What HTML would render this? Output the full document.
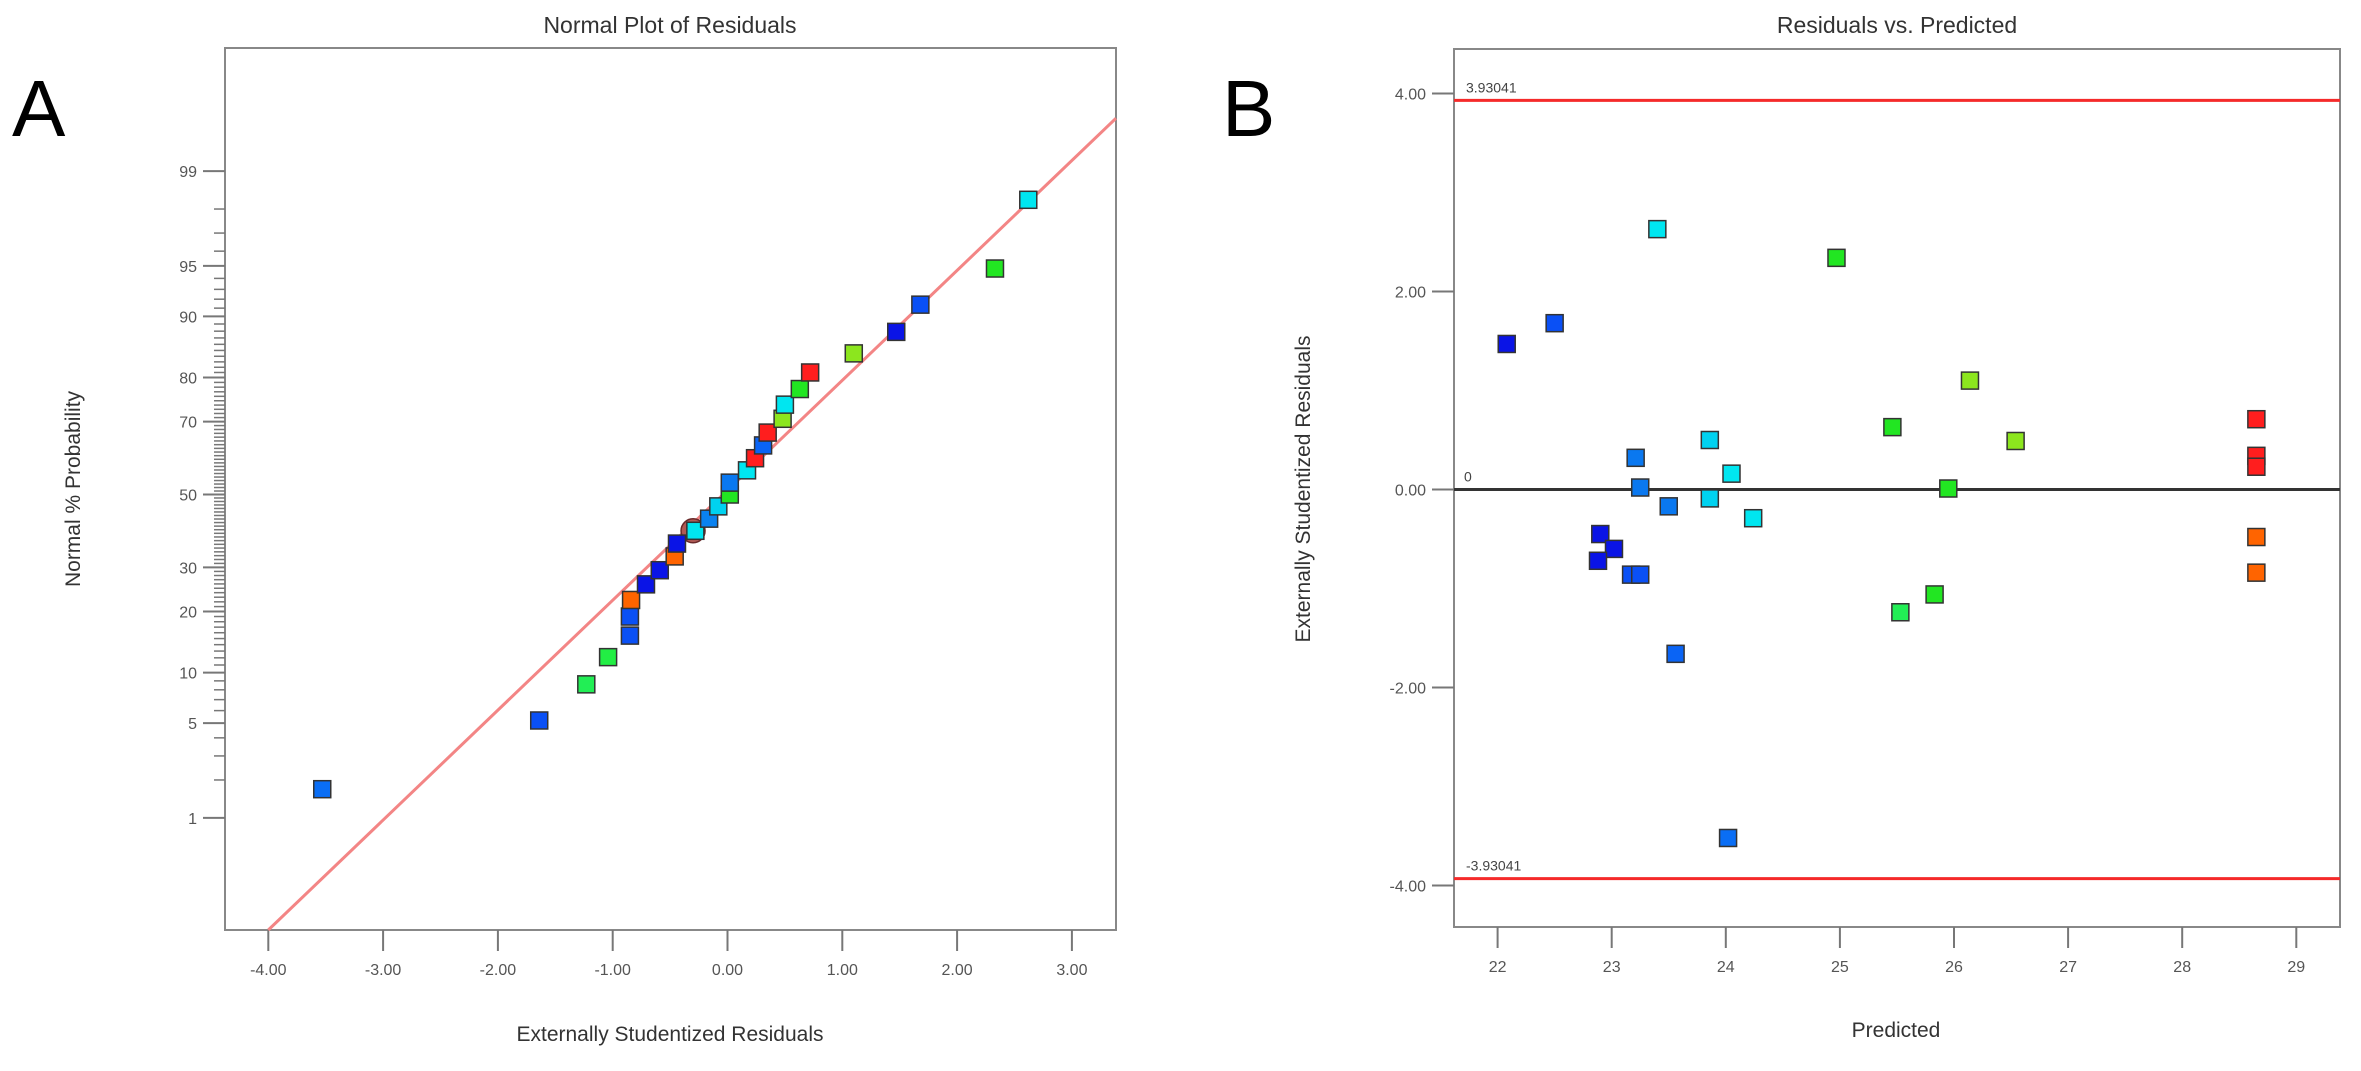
<!DOCTYPE html>
<html><head><meta charset="utf-8"><style>
html,body{margin:0;padding:0;background:#fff;}
svg{display:block;font-family:"Liberation Sans",sans-serif;}
</style></head><body>
<svg id="fig" width="2361" height="1071" viewBox="0 0 2361 1071" xmlns="http://www.w3.org/2000/svg">
<text x="12" y="136" font-size="80" fill="#000">A</text>
<text x="1222" y="136" font-size="80" fill="#000">B</text>
<text x="670" y="33" font-size="23" fill="#333" text-anchor="middle">Normal Plot of Residuals</text>
<text x="1897" y="33" font-size="23" fill="#333" text-anchor="middle">Residuals vs. Predicted</text>
<text x="670" y="1041" font-size="21" fill="#333" text-anchor="middle">Externally Studentized Residuals</text>
<text x="1896" y="1037" font-size="21" fill="#333" text-anchor="middle">Predicted</text>
<text transform="translate(80,489) rotate(-90)" font-size="21" fill="#333" text-anchor="middle">Normal % Probability</text>
<text transform="translate(1310,489) rotate(-90)" font-size="21" fill="#333" text-anchor="middle">Externally Studentized Residuals</text>
<g id="ga"></g><g id="gb"></g>
</svg>
<script>
// Panel A data
const aResiduals = [-3.53,-1.64,-1.23,-1.04,-0.85,-0.85,-0.84,-0.71,-0.59,-0.46,-0.44,-0.28,-0.16,-0.08,0.02,0.02,0.17,0.24,0.31,0.35,0.48,0.50,0.63,0.72,1.10,1.47,1.68,2.33,2.62];
const aProbs = [1.7,5.2,8.6,12.1,15.5,19.0,22.4,25.9,29.3,32.8,36.2,39.7,43.1,46.6,50.0,53.4,56.9,60.3,63.8,67.2,70.7,74.1,77.6,81.0,84.5,87.9,91.4,94.8,98.3];
const aColors = ["#0a6ef5","#0a50f5","#22ee55","#22ee44","#0a50f5","#0a50f5","#ff6400","#0a14e6","#0a14e6","#ff6400","#0a14e6","#00e6f0","#0a82f0","#00d2f0","#22e622","#0a78f0","#00e6f0","#ff1e1e","#0a64f5","#ff1e1e","#8ce61e","#00e6f0","#22e622","#ff1e1e","#8ce61e","#0a14e6","#0a50f5","#22e622","#00e6f0"];
const aXTicks = [-4,-3,-2,-1,0,1,2,3];
const aXTickLabels = ["-4.00","-3.00","-2.00","-1.00","0.00","1.00","2.00","3.00"];
const aYTicks = [1,5,10,20,30,50,70,80,90,95,99];
const aFitLine = [0.791,0.03]; // slope, intercept in z-units
const aHighlight = [-0.30,39.7];
// Panel B data
const bPredicted = [23.40,24.97,22.50,22.08,26.14,25.46,26.54,23.86,23.21,24.05,28.65,28.65,28.65,23.25,25.95,23.50,23.86,24.24,28.65,28.65,22.90,23.02,22.88,23.17,23.25,25.83,25.53,23.56,24.02];
const bResiduals = [2.63,2.34,1.68,1.47,1.10,0.63,0.49,0.50,0.32,0.16,0.71,0.34,0.23,0.02,0.01,-0.17,-0.09,-0.29,-0.48,-0.84,-0.45,-0.60,-0.72,-0.86,-0.86,-1.06,-1.24,-1.66,-3.52];
const bColors = ["#00e6f0","#22e622","#0a50f5","#0a14e6","#8ce61e","#22e622","#8ce61e","#00d2f0","#0a78f0","#00e6f0","#ff1e1e","#ff1e1e","#ff1e1e","#0a78f0","#22e622","#0a78f0","#00d2f0","#00e6f0","#ff6400","#ff6400","#0a14e6","#0a14e6","#0a14e6","#0a50f5","#0a50f5","#22e622","#22ee55","#0a64f5","#0a6ef5"];
const bXTicks = [22,23,24,25,26,27,28,29];
const bYTicks = [4,2,0,-2,-4];
const bYTickLabels = ["4.00","2.00","0.00","-2.00","-4.00"];
const bLimit = 3.93041;

const NS="http://www.w3.org/2000/svg";
function mk(tag,attrs,parent){const e=document.createElementNS(NS,tag);for(const k in attrs)e.setAttribute(k,attrs[k]);parent.appendChild(e);return e;}
function invNorm(p){
 const a=[-39.69683028665376,220.9460984245205,-275.9285104469687,138.357751867269,-30.66479806614716,2.506628277459239];
 const b=[-54.47609879822406,161.5858368580409,-155.6989798598866,66.80131188771972,-13.28068155288572];
 const c=[-0.007784894002430293,-0.3223964580411365,-2.400758277161838,-2.549732539343734,4.374664141464968,2.938163982698783];
 const d=[0.007784695709041462,0.3224671290700398,2.445134137142996,3.754408661907416];
 const pl=0.02425;let q,r;
 if(p<pl){q=Math.sqrt(-2*Math.log(p));return (((((c[0]*q+c[1])*q+c[2])*q+c[3])*q+c[4])*q+c[5])/((((d[0]*q+d[1])*q+d[2])*q+d[3])*q+1);}
 if(p>1-pl){q=Math.sqrt(-2*Math.log(1-p));return -(((((c[0]*q+c[1])*q+c[2])*q+c[3])*q+c[4])*q+c[5])/((((d[0]*q+d[1])*q+d[2])*q+d[3])*q+1);}
 q=p-0.5;r=q*q;return (((((a[0]*r+a[1])*r+a[2])*r+a[3])*r+a[4])*r+a[5])*q/(((((b[0]*r+b[1])*r+b[2])*r+b[3])*r+b[4])*r+1);
}
// Panel A scales
const A={l:225,r:1116,t:48,b:930};
const axX=v=>727.5+v*114.8;
const zY=z=>494.5-z*139;
const pY=p=>zY(invNorm(p/100));
const ga=document.getElementById('ga');
const frameA=mk('rect',{x:A.l,y:A.t,width:A.r-A.l,height:A.b-A.t,fill:'none',stroke:'#888','stroke-width':2},ga);


for(let p=2;p<=98;p++){
 if(aYTicks.indexOf(p)>=0)continue;
 const t=mk('line',{x1:A.l-11,x2:A.l,y1:pY(p),y2:pY(p),stroke:'#777','stroke-width':1.5},ga);
 
 
}
aYTicks.forEach(p=>{
 const t=mk('line',{x1:A.l-22,x2:A.l,y1:pY(p),y2:pY(p),stroke:'#777','stroke-width':2},ga);
 
 
 const l=mk('text',{x:A.l-28,y:pY(p)+6,'font-size':16,fill:'#555','text-anchor':'end'},ga);
 l.textContent=String(p);
 
 
});
aXTicks.forEach((v,i)=>{
 const t=mk('line',{x1:axX(v),x2:axX(v),y1:A.b,y2:A.b+21,stroke:'#777','stroke-width':2},ga);
 
 
 const l=mk('text',{x:axX(v),y:A.b+45,'font-size':16,fill:'#555','text-anchor':'middle'},ga);
 l.textContent=aXTickLabels[i];
 
 
});
// fit line clipped to plot
const xs=-4, zs=aFitLine[0]*xs+aFitLine[1];
const xr=(A.r-727.5)/114.8, zr=aFitLine[0]*xr+aFitLine[1];
const fit=mk('line',{x1:axX(xs),y1:Math.min(zY(zs),A.b),x2:A.r,y2:zY(zr),stroke:'#f38585','stroke-width':3},ga);


const hc=mk('circle',{cx:axX(aHighlight[0]),cy:pY(aHighlight[1]),r:12,fill:'#b05a55',stroke:'#6a2a2a','stroke-width':1.5},ga);


aResiduals.forEach((v,i)=>{
 const s=mk('rect',{x:axX(v)-8.5,y:pY(aProbs[i])-8.5,width:17,height:17,fill:aColors[i],stroke:'#333','stroke-width':1.5},ga);
 
 
});
// Panel B scales
const B={l:1454,r:2340,t:49,b:927};
const bx=v=>1497.6+(v-22)*114.1;
const by=v=>489.5-v*99;
const gb=document.getElementById('gb');
const frameB=mk('rect',{x:B.l,y:B.t,width:B.r-B.l,height:B.b-B.t,fill:'none',stroke:'#888','stroke-width':2},gb);


bYTicks.forEach((v,i)=>{
 const t=mk('line',{x1:B.l-22,x2:B.l,y1:by(v),y2:by(v),stroke:'#777','stroke-width':2},gb);
 
 
 const l=mk('text',{x:B.l-28,y:by(v)+6,'font-size':16,fill:'#555','text-anchor':'end'},gb);
 l.textContent=bYTickLabels[i];
 
 
});
bXTicks.forEach(v=>{
 const t=mk('line',{x1:bx(v),x2:bx(v),y1:B.b,y2:B.b+21,stroke:'#777','stroke-width':2},gb);
 
 
 const l=mk('text',{x:bx(v),y:B.b+45,'font-size':16,fill:'#555','text-anchor':'middle'},gb);
 l.textContent=String(v);
 
 
});
const up=mk('line',{x1:B.l,x2:B.r,y1:by(bLimit),y2:by(bLimit),stroke:'#f52a2a','stroke-width':3},gb);


const lo=mk('line',{x1:B.l,x2:B.r,y1:by(-bLimit),y2:by(-bLimit),stroke:'#f52a2a','stroke-width':3},gb);


const zl=mk('line',{x1:B.l,x2:B.r,y1:by(0),y2:by(0),stroke:'#333','stroke-width':3},gb);


const ul=mk('text',{x:B.l+12,y:by(bLimit)-8,'font-size':14,fill:'#444'},gb);
ul.textContent=bLimit.toFixed(5);


const ll=mk('text',{x:B.l+12,y:by(-bLimit)-8,'font-size':14,fill:'#444'},gb);
ll.textContent='-'+bLimit.toFixed(5);


const z0=mk('text',{x:B.l+10,y:by(0)-8,'font-size':14,fill:'#444'},gb);
z0.textContent='0';


bPredicted.forEach((v,i)=>{
 const s=mk('rect',{x:bx(v)-8.5,y:by(bResiduals[i])-8.5,width:17,height:17,fill:bColors[i],stroke:'#333','stroke-width':1.5},gb);
 
 
});
</script>
</body></html>
